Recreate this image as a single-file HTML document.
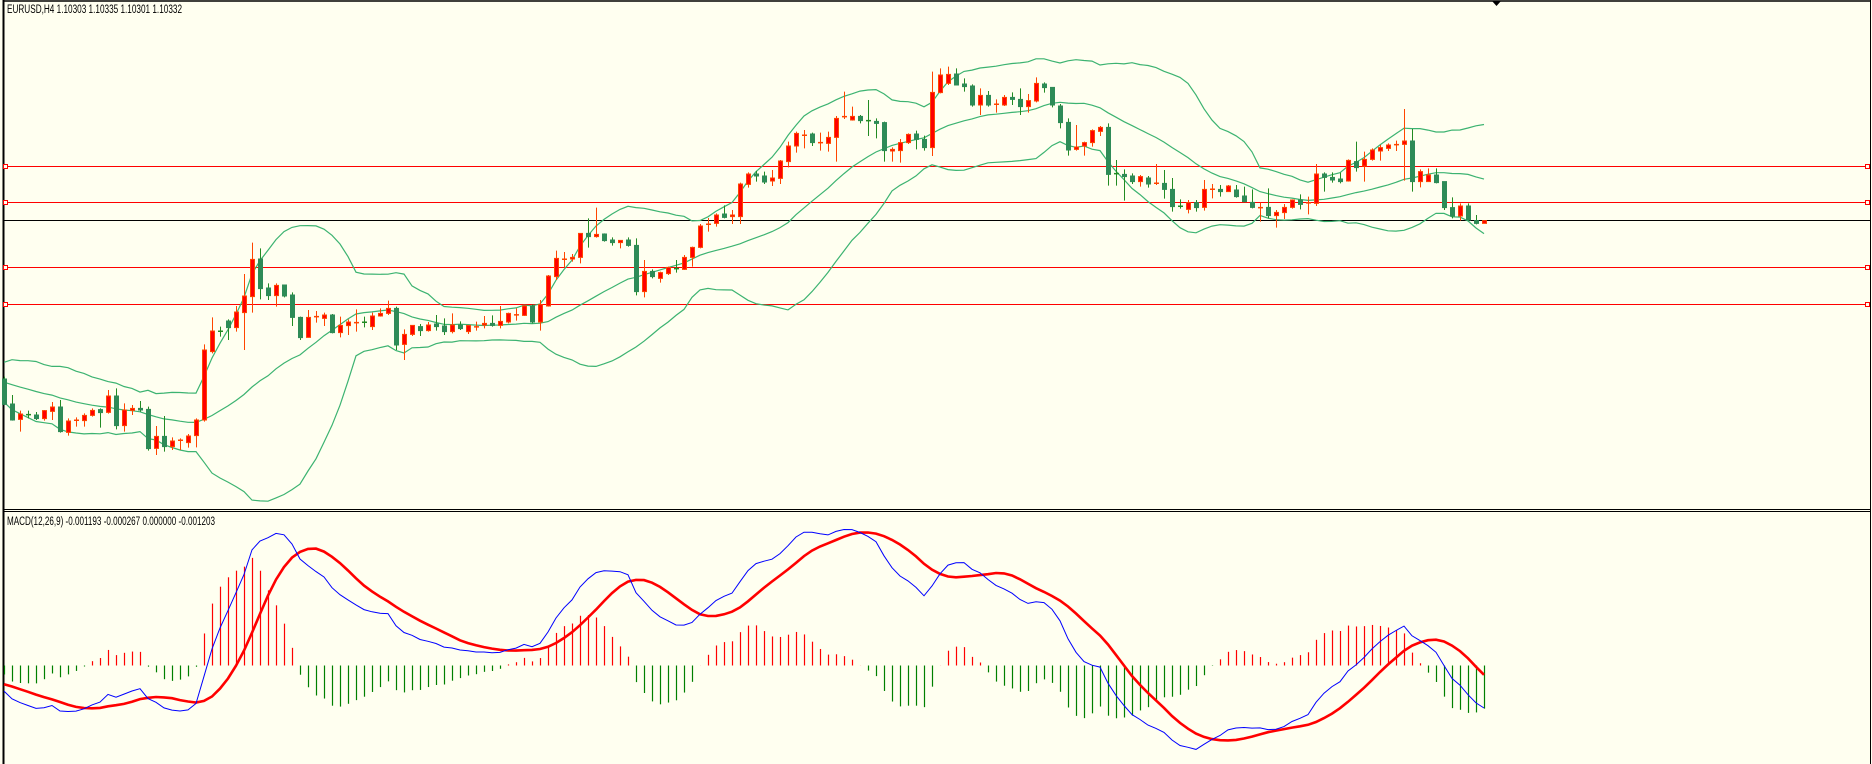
<!DOCTYPE html>
<html><head><meta charset="utf-8"><style>
html,body{margin:0;padding:0;background:#fffff0;}
svg{display:block;font-family:"Liberation Sans","DejaVu Sans",sans-serif;}
</style></head><body>
<svg id="chart" width="1872" height="764" viewBox="0 0 1872 764" xmlns="http://www.w3.org/2000/svg">
<rect x="0" y="0" width="1872" height="764" fill="#fffff0"/>
<g id="frame">
<line x1="3.5" y1="0" x2="3.5" y2="764" stroke="#000" stroke-width="2"/>
<line x1="1870.5" y1="0" x2="1870.5" y2="764" stroke="#000" stroke-width="1"/>
<line x1="3" y1="1" x2="1871" y2="1" stroke="#000" stroke-width="1.5"/>
<line x1="3" y1="509.5" x2="1871" y2="509.5" stroke="#000" stroke-width="1"/>
<line x1="3" y1="511.5" x2="1871" y2="511.5" stroke="#000" stroke-width="1"/>
<polygon points="1492,1 1501,1 1496.5,6" fill="#000"/>
</g>
<text x="7" y="13" font-size="11.5" fill="#000" textLength="175" lengthAdjust="spacingAndGlyphs">EURUSD,H4  1.10303 1.10335 1.10301 1.10332</text>
<text x="7" y="525" font-size="11.5" fill="#000" textLength="208" lengthAdjust="spacingAndGlyphs">MACD(12,26,9) -0.001193 -0.000267 0.000000 -0.001203</text>
<g id="levels"></g>
<g id="bands"></g>
<g id="candles"></g>
<g id="macd"></g>
</svg>
<script>
// price data in points (chart units)
const prehistory=[69,71,67,68,70,65,66,63,67,62,64,60,63,58,61,57,60,56,59];
const opens=[64.5,52,44.3,46.8,46.5,44.7,48.3,50.5,37.8,43.3,
43.7,46.3,49.2,47.8,56,41.2,48.8,49.8,49.3,29.8,
35.8,30.7,33.7,32.7,36.2,44,78.2,88.5,93.5,90.2,
97.7,105.7,124.5,110,106.2,111.5,106.5,95.3,85.3,95.2,
94.8,96.5,87.7,91.2,92.8,93,90.7,96,97.3,99.8,
81.8,86.8,90.7,88.7,92,91,88.2,91.5,88.2,90.7,
91.5,92.3,91.3,93,96.5,96.3,101,93,101,115.7,
124.5,124.5,125.3,137.3,135.7,137,134,132.7,134,131.3,
108.2,118.3,114.8,117.2,119.8,119.3,125.3,130.3,141.5,142.3,
147,145.7,145.7,161.8,167,166,163.5,164.8,173.2,181,
186.5,187,182.8,182.3,185.3,195.5,194,195.8,193.8,193.3,
192.7,178.5,178.7,182.7,187,184.3,180.2,207.7,212.3,217,
212,211,201.5,206.3,202,201.5,205.3,204.3,200.7,203.5,
212,210.3,201,192.8,179.3,181,182.7,188.3,190.3,167.3,
166.8,166,163.2,165,162.3,162.3,159.3,151,149.3,152.7,
150.3,159.3,159.3,158.2,159,156,152.8,150.3,150.3,146.2,
147.7,150.3,154,152.7,152.3,167,165.3,164.5,163.5,173.2,
171,174.3,178.5,179.8,181.8,181.8,183.5,163.2,163.2,166.5,
163.2,150.2,146,151,143.7,142.3];
const closes=[51.8,44,47,46.5,44.7,48.7,50.5,38.2,43.5,44,
46.3,48.8,47.7,56,41.2,49,49.8,49,29.7,35.8,
30.7,33.5,34,36,44,79,88.5,87.8,90.2,98,
106,124.3,109.7,106.2,111.3,106,95.3,85.2,95.3,95.8,
96.5,87.7,91.3,93,92.8,92.7,96,97.3,99.8,81.5,
86.8,91.3,88.7,91.5,90.7,88.2,91.5,89.7,91.3,90.7,
92.3,91.3,93.3,97.3,96.7,101,93,101.7,116,124.8,
124.5,125.3,137.3,135.7,136.8,133.7,132.7,133.8,131.3,108.2,
118.3,115.7,117.7,120.3,119.3,125.3,130.3,141,142,146.5,
145.3,146.5,162,167,166,163,165,173.5,181,187.3,
186.5,182.7,182.8,185.3,194.8,195.8,195.8,193.7,193.5,192.3,
178.7,179.3,182.7,186.8,184.3,180.2,207.8,216.5,216.8,211.5,
210.7,201.5,206.3,201.5,202,205.3,204.3,200.7,203.7,212.3,
210.2,201.5,192.7,179,180.5,182.7,188.7,190.3,166.8,167,
165.7,163.2,165.7,162,162.5,159.3,150.7,150.3,152.7,150.2,
159.3,159.5,158.2,161,155.7,153.2,150.3,150.3,146.2,147.8,
150.3,154,151.8,152.7,167,165.3,164,163.2,173.8,170.2,
174.3,179,180.2,181.5,181.8,183.5,163.2,168.2,166.5,162.7,
150.2,146,151,144,142.3,143.7];
const highs=[65.7,56.5,48.7,48.7,48,49,53,54,44.8,45.3,
47.3,49.8,49.8,59,59.8,52.3,51.5,53.5,50.7,41,
46,35.3,34.8,37,44.8,81.8,95.3,90.7,94.3,101,
117,132.7,129.8,112.3,112.3,111.5,107.8,95.7,99,98.5,
97.7,97,95.7,94.3,99.3,95.7,97.7,99.8,103.7,100.7,
89.3,91.5,92,93,96.5,94.8,97.3,93.3,91.3,93.2,
96,96.3,101,97.7,99.8,101.5,101.8,104,116.5,128.7,
128,127,137.3,144.8,150.2,137.3,135.3,133.8,135.3,134.8,
124,119.3,118.2,120.7,124,126.5,130.7,142,145,147.3,
151.3,149,162.7,167.8,168.5,168.2,169,174,183.2,188.2,
189,187.7,187.7,188.2,196,208.2,200.7,196.5,204,194.8,
193.2,180.3,184.5,187.3,188.7,186.2,218.2,219.8,220.7,219.8,
214.8,211.8,209.8,208.5,204.3,206.5,207.8,209.8,207,215.3,
212.8,210.3,202,194.8,191.5,183.2,189.3,191,192.3,174,
169.3,167.3,166.5,166,172,169,165,154.3,154,154,
164,162,161.5,161.5,161.5,160.7,159.3,152.7,159.8,149,
152,154.3,156.8,155.7,172,167.8,167.8,167.7,174.3,183.2,
178.2,179.8,181.5,182.3,183.7,199.5,189.5,169.3,169.8,169.8,
163.2,155.3,152.3,152.3,146.5,143.7];
const lows=[51.5,43.7,38.2,44.8,44,43.7,44,37.7,36.2,40.7,
40.7,45.7,40.2,47.2,39.3,38.2,46.5,48.2,28.7,26.5,
28.2,29,29,30.2,30.3,43.2,77.3,85.7,84,88.2,
79,97.7,104.3,104,100.7,105.3,91,84,85.2,92.7,
91,87.3,85.3,86.5,88.2,90.3,89,95.7,96.5,79,
74,86,86,88.2,88.7,86.5,87.3,89,87,88.7,
89.8,90.7,89.8,92.3,93.7,96,92.3,88.7,100.7,114,
120.3,123.2,122.3,130.2,135.2,133.2,131.2,129.8,130.7,106.3,
105.3,114.8,112.7,116.5,117.7,119,120.7,129.8,138.2,140.7,
144.8,142,142,160.2,163.2,162,161,162,170.3,177.7,
179.8,181,178.7,178.2,173.2,194.5,193.7,192.3,186,184.8,
173.2,173.2,172.7,182,179.3,178.7,176,207.3,211.5,211.5,
208.2,200.7,196.5,200.7,197.7,201,201.5,196.5,197.7,202.8,
207.7,200.3,189.8,176.2,178.7,176.2,180.7,186,161.2,161.2,
153.7,162,160.7,160.2,161.5,154.7,148.2,149.7,147.3,148.2,
148.7,154.8,155.7,158.2,155.2,152.8,149.8,143.2,144.8,140.2,
144.5,149.7,149.3,146.8,151,158.2,162.7,162.3,163.2,168.2,
163.2,173.7,173.7,178.5,178.5,163.7,158.2,160.3,163.2,162.3,
149,144.8,143.7,143.7,141.8,142.3];
const redLevels=[171,153,120.5,102];
const blackLevels=[144];
const bbPeriod=20, bbDev=2;
const macdFast=12, macdSlow=26, macdSignal=9;
const histFactor=1.3;

const NS='http://www.w3.org/2000/svg';
function mk(tag,attrs,parent){const e=document.createElementNS(NS,tag);for(const k in attrs)e.setAttribute(k,attrs[k]);parent.appendChild(e);return e;}
function xOf(i){return 4+8*i;}
function yP(v){return 508-2*v;}

// levels
const gL=document.getElementById('levels');
redLevels.forEach(function(v,k){
  const y=Math.round(yP(v))+0.5;
  const ln=mk('line',{x1:4,y1:y,x2:1870,y2:y,stroke:'#ff0000','stroke-width':1},gL);
  
  
  const m1=mk('rect',{x:3.5,y:y-2,width:4,height:4,fill:'#fffff0',stroke:'#ff0000','stroke-width':1},gL);
  
  
  const m2=mk('rect',{x:1865.5,y:y-2,width:4,height:4,fill:'#fffff0',stroke:'#ff0000','stroke-width':1},gL);
  
  
});
blackLevels.forEach(function(v){
  const y=Math.round(yP(v))+0.5;
  const ln=mk('line',{x1:4,y1:y,x2:1870,y2:y,stroke:'#000','stroke-width':1},gL);
  
  
});

// Bollinger
const all=prehistory.concat(closes);
const P=prehistory.length;
const up=[],mid=[],lo=[];
for(let i=0;i<closes.length;i++){
  const idx=i+P;const s=Math.max(0,idx-bbPeriod+1);
  let sum=0,n=0;for(let j=s;j<=idx;j++){sum+=all[j];n++;}
  const m=sum/n;let sq=0;for(let j=s;j<=idx;j++)sq+=(all[j]-m)*(all[j]-m);
  const sd=Math.sqrt(sq/n);
  mid.push(m);up.push(m+bbDev*sd);lo.push(m-bbDev*sd);
}
const gB=document.getElementById('bands');
[[up,'bollinger-upper'],[mid,'bollinger-middle'],[lo,'bollinger-lower']].forEach(function(b){
  const pts=b[0].map(function(v,i){return xOf(i)+','+yP(v).toFixed(1);}).join(' ');
  const pl=mk('polyline',{points:pts,fill:'none',stroke:'#3cb371','stroke-width':1.2},gB);
  
  
});

// candles
const gC=document.getElementById('candles');
for(let i=0;i<closes.length;i++){
  const o=opens[i],c=closes[i],h=highs[i],l=lows[i];
  const bull=c>=o;const x=xOf(i);
  const wick=bull?'#ff4500':'#228b22';
  const g=mk('g',{},gC);
  
  
  mk('line',{x1:x+0.5,y1:yP(h),x2:x+0.5,y2:yP(l),stroke:wick,'stroke-width':1},g);
  const top=yP(Math.max(o,c)),bot=yP(Math.min(o,c));
  const hgt=Math.max(1,bot-top);
  if(hgt<=1.5){
    mk('rect',{x:x-2,y:top-0.5,width:5,height:1.5,fill:wick},g);
  } else {
    mk('rect',{x:x-1.5,y:top,width:4,height:hgt,fill:bull?'#ff0000':'#2e8b57',stroke:bull?'#ff4500':'#2e8b57','stroke-width':1},g);
  }
}

// MACD
function ema(arr,n){const k=2/(n+1);const out=[arr[0]];for(let i=1;i<arr.length;i++)out.push(arr[i]*k+out[i-1]*(1-k));return out;}
const eF=ema(all,macdFast),eS=ema(all,macdSlow);
const macdAll=eF.map(function(v,i){return v-eS[i];});
const sigAll=macdAll.map(function(v,i){const s=Math.max(0,i-macdSignal+1);let sum=0,n=0;for(let j=s;j<=i;j++){sum+=macdAll[j];n++;}return sum/n;});
const macdV=macdAll.slice(P),sigV=sigAll.slice(P);
const histV=macdV.map(function(v,i){return (v-sigV[i])*histFactor;});
const zeroY=665.5;
let mx=0;macdV.forEach(function(v){mx=Math.max(mx,Math.abs(v));});
const kM=136/mx;
function yM(v){return zeroY-kM*v;}
const gM=document.getElementById('macd');
histV.forEach(function(v,i){
  const x=xOf(i)+0.5;
  const ln=mk('line',{x1:x,y1:zeroY,x2:x,y2:yM(v),stroke:v>=0?'#ff0000':'#008000','stroke-width':1.2},gM);
  
  
});
const sigLine=mk('polyline',{points:sigV.map(function(v,i){return xOf(i)+','+yM(v).toFixed(1);}).join(' '),fill:'none',stroke:'#ff0000','stroke-width':2.6},gM);


const mLine=mk('polyline',{points:macdV.map(function(v,i){return xOf(i)+','+yM(v).toFixed(1);}).join(' '),fill:'none',stroke:'#0000ff','stroke-width':1},gM);


</script>
</body></html>
